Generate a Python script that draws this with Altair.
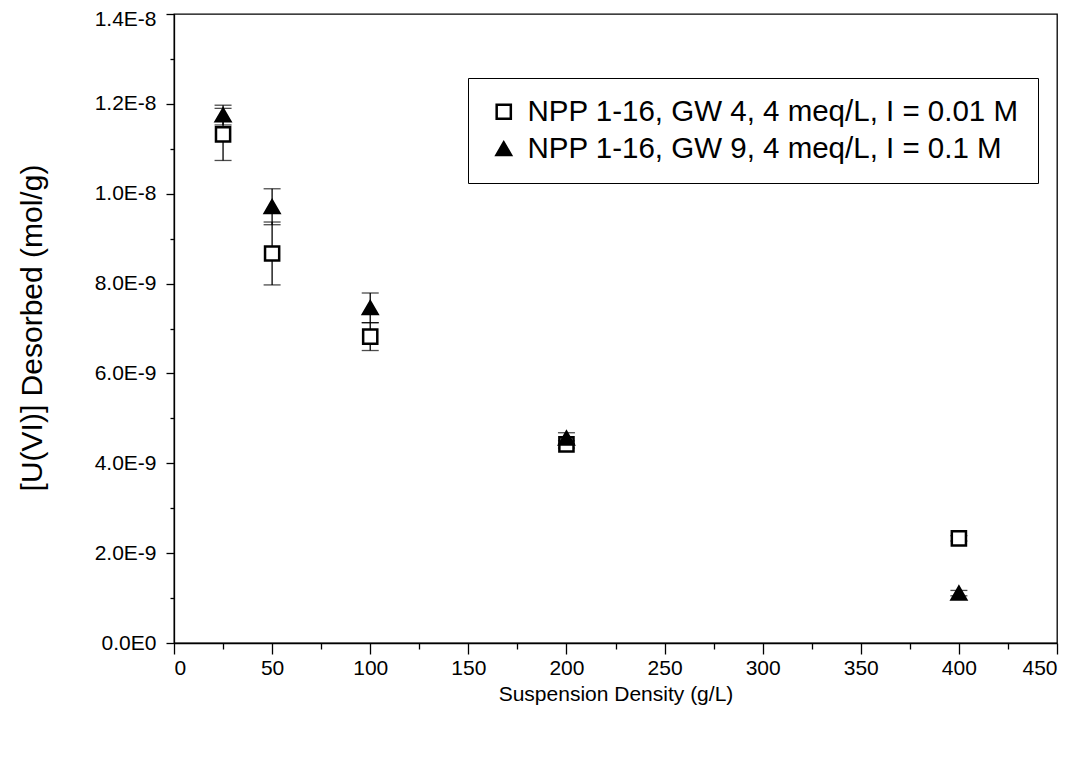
import altair as alt
import pandas as pd

# Data
density = [25, 50, 100, 200, 400]
gw4_vals = [1.132e-8, 8.67e-9, 6.82e-9, 4.42e-9, 2.33e-9]
gw4_err = [0.58e-9, 0.70e-9, 0.31e-9, 0.08e-9, 0.06e-9]
gw9_vals = [1.175e-8, 9.71e-9, 7.46e-9, 4.56e-9, 1.11e-9]
gw9_err = [0.22e-9, 0.40e-9, 0.33e-9, 0.12e-9, 0.06e-9]
series_names = ["NPP 1-16, GW 4, 4 meq/L, I = 0.01 M", "NPP 1-16, GW 9, 4 meq/L, I = 0.1 M"]

x_ticks = list(range(0, 451, 25))
y_ticks = [i / 1e9 for i in range(0, 15)]

rows = []
for name, vals, errs in [(series_names[0], gw4_vals, gw4_err), (series_names[1], gw9_vals, gw9_err)]:
    for d, v, e in zip(density, vals, errs):
        rows.append({"series": name, "x": d, "y": v, "lo": v - e, "hi": v + e})
df = pd.DataFrame(rows)

FONT = "Liberation Sans"
PLOT_H = 629

x_enc = alt.X("x:Q", scale=alt.Scale(domain=[0, 450], nice=False, zero=False),
              axis=alt.Axis(values=x_ticks, title="Suspension Density (g/L)",
                            labelExpr="datum.value % 50 == 0 ? datum.label : ''",
                            tickSize={"condition": {"test": "datum.value % 50 != 0", "value": 6}, "value": 11},
                            labelPadding=3, titlePadding=5, grid=False))
y_enc = alt.Y("y:Q", scale=alt.Scale(domain=[0, 1.4e-8], nice=False),
              axis=alt.Axis(values=y_ticks, title="[U(VI)] Desorbed (mol/g)",
                            labelExpr="round(datum.value*1e9) % 2 == 1 ? '' : (datum.value == 0 ? '0.0E0' : format(datum.value / pow(10, floor(log(datum.value)/LN10 + 1e-6)), '.1f') + 'E' + floor(log(datum.value)/LN10 + 1e-6))",
                            tickSize={"condition": {"test": "round(datum.value*1e9) % 2 == 1", "value": 4}, "value": 8},
                            labelOffset={"condition": {"test": "datum.value > 1.35e-8", "value": 5}, "value": 0},
                            labelPadding=10, titleX=-142, titleY=PLOT_H / 2 - 1, titleBaseline="middle",
                            titleFontSize=30, grid=False))

base = alt.Chart(df)

bars = base.mark_rule(color="black", strokeWidth=1.3).encode(x=x_enc, y=alt.Y("lo:Q"), y2="hi:Q")
cap_lo = base.mark_tick(color="black", thickness=1.3, size=17, orient="horizontal").encode(x="x:Q", y="lo:Q")
cap_hi = base.mark_tick(color="black", thickness=1.3, size=17, orient="horizontal").encode(x="x:Q", y="hi:Q")

legend = alt.Legend(title=None, orient="none", legendX=294, legendY=64,
                    strokeColor="black", fillColor="white", padding=19,
                    labelFontSize=29.5, labelFont=FONT, labelColor="black",
                    symbolStrokeWidth=2.5, symbolSize=150,
                    symbolOffset=2, labelOffset=9, rowPadding=6, labelLimit=800)

points = base.mark_point(strokeWidth=2.5, opacity=1, color="black").encode(
    x="x:Q",
    y=y_enc,
    shape=alt.Shape("series:N", scale=alt.Scale(domain=series_names, range=["square", "triangle-up"]), legend=legend),
    fill=alt.Fill("series:N", scale=alt.Scale(domain=series_names, range=["white", "black"]), legend=legend),
    stroke=alt.Stroke("series:N", scale=alt.Scale(domain=series_names, range=["black", "black"]), legend=legend),
    size=alt.Size("series:N", scale=alt.Scale(domain=series_names, range=[200, 210]), legend=legend),
)

chart = alt.layer(bars, cap_lo, cap_hi, points).properties(
    width=883, height=PLOT_H,
    background="white",
    autosize=alt.AutoSizeParams(type="none"),
    padding={"left": 166, "top": 6, "right": 20, "bottom": 110},
).configure_view(stroke="black", strokeWidth=1.3).configure_axis(
    domainColor="black", domainWidth=1.3, tickColor="black", tickWidth=1.3,
    labelFont=FONT, labelFontSize=21, labelColor="black",
    titleFont=FONT, titleFontSize=21, titleColor="black", titleFontWeight="normal",
)

chart.save("out.html", embed_options={"renderer": "svg", "actions": False})
